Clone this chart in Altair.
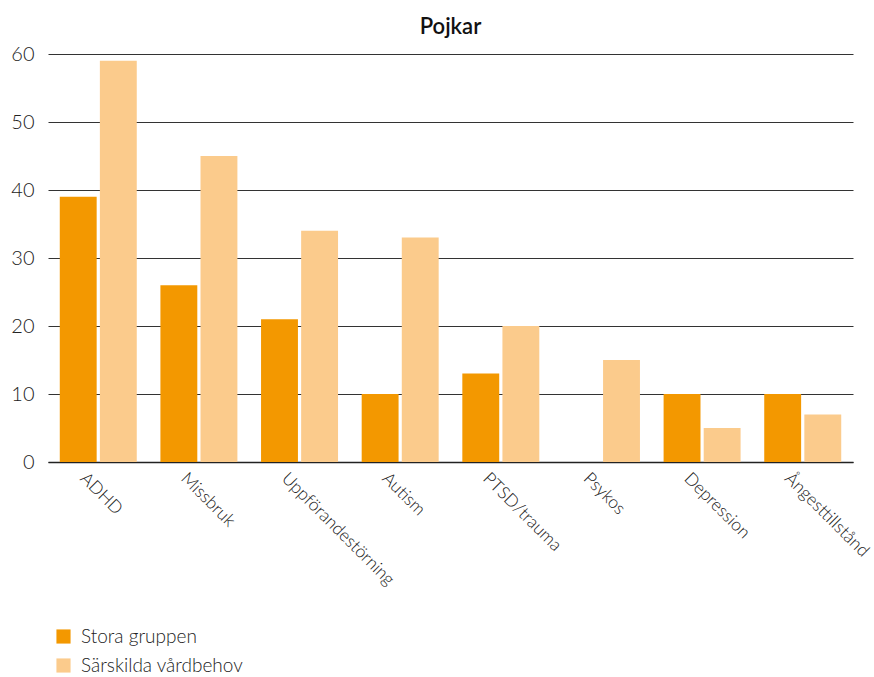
import altair as alt
import pandas as pd

categories = ["ADHD", "Missbruk", "Uppförandestörning", "Autism", "PTSD/trauma", "Psykos", "Depression", "Ångesttillstånd"]
stora = [39, 26, 21, 10, 13, 0, 10, 10]
sarskilda = [59, 45, 34, 33, 20, 15, 5, 7]
series = ["Stora gruppen", "Särskilda vårdbehov"]
colors = ["#F39800", "#FBCB8C"]

rows = []
for c, a, b in zip(categories, stora, sarskilda):
    rows.append({"kategori": c, "serie": series[0], "värde": a})
    rows.append({"kategori": c, "serie": series[1], "värde": b})
df = pd.DataFrame(rows)

FONT = "Lato"

chart = alt.Chart(df).mark_bar().encode(
    x=alt.X("kategori:N", sort=categories, title=None,
            scale=alt.Scale(paddingInner=0.235, paddingOuter=0.117),
            axis=alt.Axis(labelAngle=45, labelAlign="left", labelBaseline="top",
                          ticks=False, domain=True, domainColor="#222", domainWidth=1.5,
                          labelFontSize=17.5, labelPadding=7, labelOffset=-9, labelColor="#222",
                          labelFont=FONT, labelFontWeight=300, grid=False, labelLimit=300)),
    xOffset=alt.XOffset("serie:N", sort=series, scale=alt.Scale(paddingInner=0.08)),
    y=alt.Y("värde:Q", title=None,
            scale=alt.Scale(domain=[0, 60]),
            axis=alt.Axis(values=[0, 10, 20, 30, 40, 50, 60], ticks=False, domain=False,
                          grid=True, gridColor="#333", gridWidth=1,
                          labelFontSize=20, labelPadding=14, labelColor="#222",
                          labelFont=FONT, labelFontWeight=300)),
    color=alt.Color("serie:N", sort=series, scale=alt.Scale(domain=series, range=colors),
                    legend=alt.Legend(orient="none", legendX=6, legendY=573, title=None,
                                      symbolType="square", symbolSize=200, symbolStrokeWidth=0,
                                      labelFontSize=19, labelFont=FONT, labelFontWeight=300,
                                      labelLimit=400,
                                      labelColor="#222", rowPadding=9, labelOffset=8)),
).properties(
    width=805, height=408,
    title=alt.TitleParams("Pojkar", fontSize=22, font=FONT, fontWeight=600, color="#111",
                          anchor="middle", offset=5),
    autosize=alt.AutoSizeParams(type="none"),
    padding={"left": 48, "top": 54, "right": 21, "bottom": 215},
).configure_view(stroke=None)

chart.save("out.html", embed_options={"renderer": "svg", "actions": False})
